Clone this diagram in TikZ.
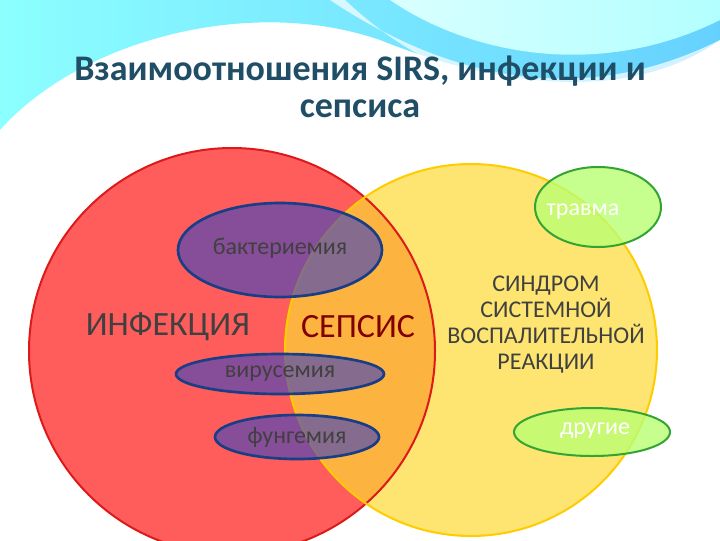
\documentclass[tikz,border=0pt]{standalone}
\usepackage{fontspec}
\setmainfont{Carlito}
\definecolor{titlec}{HTML}{1F4E66}
\definecolor{txt}{HTML}{404040}
\tikzset{
  sm/.style={font=\fontsize{18}{20}\selectfont,text=txt},
  purp/.style={draw=titlec!80!blue,line width=2pt,fill=blue!45!gray,fill opacity=0.65},
  grn/.style={draw=green!55!black!80,line width=1.5pt,fill=green!50!yellow!55,fill opacity=0.8},
}
\begin{document}
\begin{tikzpicture}[x=0.75pt,y=-0.75pt]
\useasboundingbox (0,0) rectangle (720,540);
% header waves
\shade[left color=cyan!45!white,right color=blue!30!cyan!60] (0,0) -- (720,0) -- (720,40) .. controls (620,110) and (480,80) .. (380,40) .. controls (250,-5) and (80,40) .. (0,130) -- cycle;
\fill[white,opacity=0.7] (330,0) .. controls (420,60) and (560,120) .. (720,40) -- (720,50) .. controls (560,135) and (430,80) .. (345,0) -- cycle;
\shade[left color=cyan!15,right color=cyan!30] (390,0) .. controls (470,55) and (600,80) .. (720,20) -- (720,0) -- cycle;
\node[font=\bfseries\fontsize{27}{28}\selectfont,text=titlec,align=center] (title) at (360,87) {Взаимоотношения SIRS, инфекции и\\сепсиса};
% circles
\fill[red!75!white,fill opacity=0.85] (232,351) circle (203);
\fill[yellow!70!orange!80,fill opacity=0.7] (471,350) circle (186);
\draw[red!85!black!90,line width=1.5pt] (232,351) circle (203);
\draw[orange!40!yellow,line width=1.5pt] (471,350) circle (186);
% ellipses
\draw[purp] (280,250) ellipse (102 and 47);
\draw[purp] (280,374) ellipse (104 and 20);
\draw[purp] (297,437) ellipse (82 and 22);
\draw[grn] (598,207) ellipse (63 and 40);
\draw[grn] (592,432) ellipse (78 and 24);
% labels
\node[sm] (bact) at (280,248) {бактериемия};
\node[sm] (vir) at (280,374) {вирусемия};
\node[sm] (fung) at (297,437) {фунгемия};
\node[sm,text=white] (trav) at (583,212) {травма};
\node[sm,text=white] (dr) at (595,431) {другие};
\node[font=\fontsize{25.5}{30}\selectfont,text=txt] (inf) at (168,327) {ИНФЕКЦИЯ};
\node[font=\fontsize{25.5}{30}\selectfont,text=red!50!black] (seps) at (358,327) {СЕПСИС};
\node[font=\fontsize{18}{19.5}\selectfont,text=txt,align=center] (sirs) at (546,325) {СИНДРОМ\\СИСТЕМНОЙ\\ВОСПАЛИТЕЛЬНОЙ\\РЕАКЦИИ};
\end{tikzpicture}
\end{document}
